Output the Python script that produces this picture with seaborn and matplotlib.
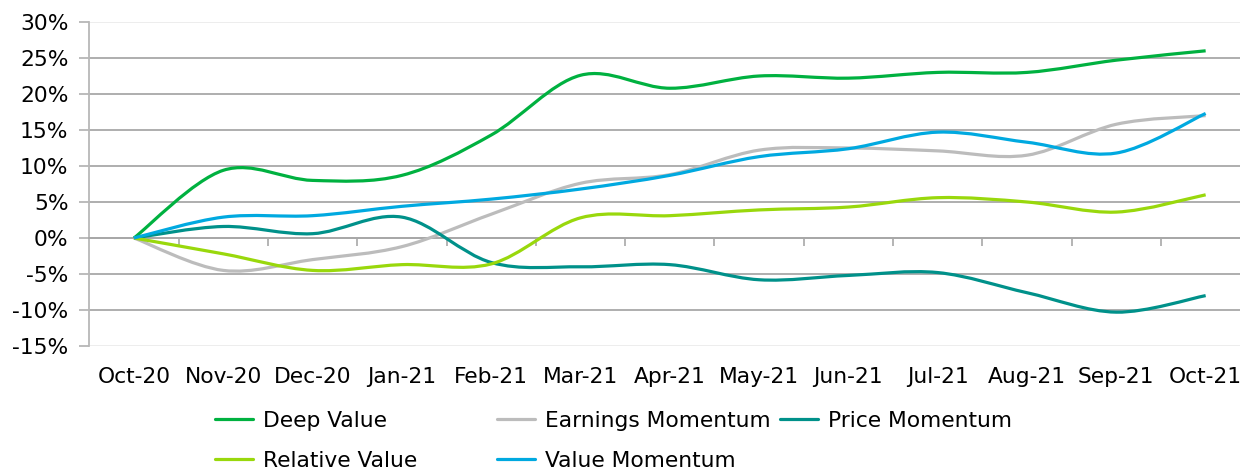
import numpy as np
import seaborn as sns
import matplotlib.pyplot as plt
from matplotlib.path import Path
from matplotlib.patches import PathPatch
from matplotlib.lines import Line2D
from matplotlib.ticker import FuncFormatter

months = ["Oct-20", "Nov-20", "Dec-20", "Jan-21", "Feb-21", "Mar-21", "Apr-21",
          "May-21", "Jun-21", "Jul-21", "Aug-21", "Sep-21", "Oct-21"]
deep_value = [0, 9.4, 8.0, 8.7, 14.3, 22.6, 20.8, 22.5, 22.2, 23.0, 23.0, 24.7, 26.0]
earnings_momentum = [0, -4.5, -3.0, -1.2, 3.3, 7.6, 8.8, 12.2, 12.5, 12.1, 11.5, 15.8, 17.0]
price_momentum = [0, 1.6, 0.6, 2.9, -3.4, -4.0, -3.7, -5.8, -5.2, -4.8, -7.6, -10.3, -8.0]
relative_value = [0, -2.2, -4.5, -3.7, -3.6, 2.8, 3.1, 3.9, 4.3, 5.6, 5.0, 3.6, 6.0]
value_momentum = [0, 2.9, 3.1, 4.4, 5.4, 6.8, 8.7, 11.3, 12.4, 14.7, 13.3, 11.8, 17.3]

series_names = ["Deep Value", "Earnings Momentum", "Price Momentum",
                "Relative Value", "Value Momentum"]
series_vals = [deep_value, earnings_momentum, price_momentum,
               relative_value, value_momentum]
colors = ["#00b140", "#bcbcbc", "#00918a", "#99d80c", "#00a9e0"]


def smooth_path(xs, ys):
    # excel-style smoothed line: cubic bezier through every point
    pts = np.column_stack([xs, ys]).astype(float)
    n = len(pts)
    verts = [pts[0]]
    codes = [Path.MOVETO]
    for i in range(n - 1):
        p0 = pts[i - 1] if i > 0 else pts[i]
        p1, p2 = pts[i], pts[i + 1]
        p3 = pts[i + 2] if i + 2 < n else pts[i + 1]
        verts += [p1 + (p2 - p0) / 6, p2 - (p3 - p1) / 6, p2]
        codes += [Path.CURVE4] * 3
    return Path(verts, codes)


sns.set_style("white")
plt.rcParams['font.family'] = ['DejaVu Sans']
plt.rcParams['text.color'] = 'black'
fs = 15.7

fig = plt.figure(figsize=(12.4, 4.7), dpi=100)
ax = fig.add_axes([89.3 / 1240, 124 / 470, 1161 / 1240, 324 / 470])

x = np.arange(len(months))
for name, vals, c in zip(series_names, series_vals, colors):
    ax.add_patch(PathPatch(smooth_path(x, vals), facecolor='none', edgecolor=c,
                           lw=2.3, capstyle='butt', joinstyle='round', zorder=3))

ax.set_xlim(-0.5, 12.5)
ax.set_ylim(-15, 30)
ax.set_yticks(np.arange(-15, 31, 5))
ax.yaxis.set_major_formatter(FuncFormatter(lambda v, p: f"{v:.0f}%"))
ax.tick_params(axis='y', labelsize=fs, length=7, width=1.2, color='#b0b0b0',
               pad=8, labelcolor='black', direction='out', left=True)
ax.grid(axis='y', color='#a8a8a8', lw=1.3)
ax.grid(axis='x', visible=False)
gl = ax.yaxis.get_gridlines()
gl[0].set_color('#ececec')
gl[-1].set_color('#ececec')

for s in ['top', 'right']:
    ax.spines[s].set_visible(False)
ax.spines['left'].set_color('#b8b8b8')
ax.spines['left'].set_linewidth(1.3)
ax.spines['bottom'].set_position(('data', 0))
ax.spines['bottom'].set_color('#a8a8a8')
ax.spines['bottom'].set_linewidth(1.3)

ax.set_xticks([])
ax.set_xticks(np.arange(0.5, 12, 1), minor=True)
ax.tick_params(axis='x', which='minor', length=6, width=1.2, color='#a8a8a8',
               direction='out', bottom=True, labelbottom=False)

sec = ax.secondary_xaxis('bottom')
sec.set_xticks(x, labels=months)
sec.tick_params(length=0, pad=15, labelsize=fs, labelcolor='black')
sec.spines['bottom'].set_visible(False)

handles = [Line2D([0], [0], color=c, lw=2.3) for c in colors]
cols = [([0, 3], 215), ([1, 4], 497), ([2], 780)]
for idx, xpix in cols:
    leg = fig.legend([handles[i] for i in idx], [series_names[i] for i in idx],
                     loc='upper left', bbox_to_anchor=(xpix / 1240, 1 - 411 / 470),
                     frameon=False, fontsize=fs, handlelength=1.72, handletextpad=0.47,
                     borderpad=0, borderaxespad=0, labelspacing=0.9)
    for t in leg.get_texts():
        t.set_color('black')

plt.savefig('out.png', dpi=100)
